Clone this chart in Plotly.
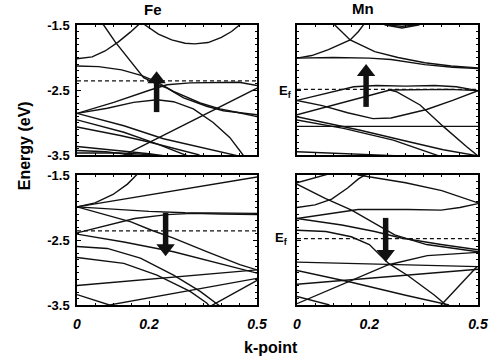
import plotly.graph_objects as go

# ---------------- data ----------------
K_RANGE = [0, 0.5]
E_RANGE = [-3.5, -1.5]
K_TICKS = [0, 0.2, 0.5]
K_LABELS = ["0", "0.2", "0.5"]
E_TICKS = [-1.5, -2.5, -3.5]
E_LABELS = ["-1.5", "-2.5", "-3.5"]

panel_names = ["Fe", "Mn", "Fe", "Mn"]          # up-spin row, then down-spin row
fermi_levels = [-2.36, -2.49, -2.36, -2.48]
arrow_k = [0.221, 0.191, 0.246, 0.245]
arrow_tail = [-2.84, -2.76, -2.08, -2.16]
arrow_tip = [-2.21, -2.10, -2.75, -2.84]

# bands: (k values, energy values)
fe_up_bands = [
    ([0.18, 0.189, 0.226, 0.263, 0.300, 0.327, 0.364, 0.401, 0.429, 0.452, 0.46],
     [-1.45, -1.5, -1.64, -1.73, -1.78, -1.79, -1.77, -1.69, -1.60, -1.5, -1.46]),
    ([0, 0.042, 0.078, 0.115, 0.148, 0.171, 0.18],
     [-2.02, -1.99, -1.90, -1.76, -1.61, -1.5, -1.45]),
    ([0.06, 0.074, 0.106, 0.148, 0.185, 0.226, 0.25, 0.296, 0.36, 0.406, 0.5],
     [-1.42, -1.5, -1.76, -2.05, -2.31, -2.42, -2.47, -2.62, -2.75, -2.82, -2.88]),
    ([0, 0.06, 0.124, 0.18, 0.22, 0.268, 0.342, 0.397, 0.45, 0.5],
     [-2.13, -2.14, -2.19, -2.28, -2.37, -2.52, -2.70, -2.79, -2.85, -2.91]),
    ([0, 0.102, 0.203, 0.25, 0.314, 0.406, 0.45, 0.5],
     [-2.86, -2.69, -2.50, -2.42, -2.39, -2.38, -2.38, -2.43]),
    ([0, 0.084, 0.157, 0.222, 0.268, 0.323, 0.378, 0.424, 0.461, 0.47],
     [-2.86, -2.78, -2.69, -2.65, -2.68, -2.79, -3.0, -3.23, -3.5, -3.56]),
    ([0.11, 0.5], [-3.56, -2.47]),
    ([0, 0.13, 0.24, 0.36, 0.434, 0.46], [-2.86, -3.05, -3.25, -3.41, -3.5, -3.53]),
    ([0, 0.13, 0.222, 0.296, 0.31], [-2.96, -3.15, -3.33, -3.5, -3.52]),
    ([0, 0.12, 0.2, 0.3, 0.34], [-3.07, -3.2, -3.3, -3.45, -3.5]),
    ([0, 0.1, 0.2, 0.24], [-3.37, -3.42, -3.48, -3.51]),
    ([0, 0.08, 0.17], [-3.43, -3.45, -3.51]),
    ([0, 0.12, 0.22], [-3.47, -3.47, -3.5]),
]

mn_up_bands = [
    ([0.22, 0.245, 0.29, 0.335, 0.36], [-1.45, -1.5, -1.545, -1.5, -1.45]),
    ([0.25, 0.29, 0.33], [-1.5, -1.52, -1.5]),
    ([0, 0.1, 0.2, 0.26, 0.353, 0.43, 0.5], [-2.01, -2.0, -2.01, -2.03, -2.11, -2.15, -2.17]),
    ([0.09, 0.105, 0.147, 0.215, 0.279, 0.353, 0.426, 0.5],
     [-1.42, -1.5, -1.73, -1.91, -2.0, -2.08, -2.13, -2.16]),
    ([0, 0.041, 0.087, 0.124, 0.147, 0.17, 0.183, 0.19],
     [-2.01, -1.97, -1.88, -1.79, -1.73, -1.60, -1.5, -1.45]),
    ([0, 0.08, 0.157, 0.22, 0.30, 0.38, 0.44, 0.5],
     [-2.66, -2.55, -2.45, -2.43, -2.44, -2.43, -2.45, -2.51]),
    ([0, 0.07, 0.14, 0.21, 0.26, 0.358, 0.43, 0.5],
     [-2.66, -2.74, -2.85, -2.94, -2.93, -2.80, -2.66, -2.51]),
    ([0, 0.257], [-2.88, -2.50]),
    ([0.257, 0.33, 0.42, 0.5], [-2.50, -2.50, -2.49, -2.51]),
    ([0.257, 0.276, 0.34, 0.404, 0.468, 0.497, 0.51],
     [-2.50, -2.53, -2.73, -3.06, -3.37, -3.5, -3.56]),
    ([0, 0.175, 0.312, 0.404, 0.497], [-2.91, -3.12, -3.30, -3.42, -3.51]),
    ([0, 0.129, 0.266, 0.358, 0.39], [-2.96, -3.09, -3.27, -3.45, -3.51]),
    ([0, 0.5], [-3.06, -3.06]),
    ([0, 0.13, 0.27], [-3.45, -3.48, -3.51]),
]

fe_dn_bands = [
    ([0, 0.05, 0.1, 0.14, 0.165, 0.175], [-1.99, -1.93, -1.80, -1.64, -1.5, -1.44]),
    ([0, 0.25, 0.5], [-1.99, -1.76, -1.53]),
    ([0, 0.1, 0.2, 0.3, 0.4, 0.5], [-1.99, -2.03, -2.06, -2.08, -2.09, -2.09]),
    ([0, 0.084, 0.15, 0.207, 0.268, 0.36, 0.452, 0.5],
     [-1.99, -2.12, -2.22, -2.35, -2.47, -2.68, -2.88, -2.96]),
    ([0, 0.08, 0.16, 0.25, 0.32, 0.4, 0.5], [-2.39, -2.28, -2.17, -2.11, -2.09, -2.10, -2.11]),
    ([0, 0.13, 0.268, 0.406, 0.5], [-2.41, -2.53, -2.68, -2.88, -3.01]),
    ([0, 0.084, 0.176, 0.268, 0.342, 0.388, 0.4], [-2.60, -2.63, -2.78, -3.04, -3.29, -3.47, -3.53]),
    ([0, 0.13, 0.222, 0.314, 0.36, 0.37], [-2.77, -2.86, -3.04, -3.29, -3.47, -3.53]),
    ([0, 0.5], [-3.20, -2.96]),
    ([0.07, 0.5], [-3.52, -3.09]),
    ([0, 0.09], [-3.34, -3.5]),
    ([0.37, 0.5], [-3.52, -3.12]),
]

mn_dn_bands = [
    ([0, 0.04, 0.08, 0.09], [-1.62, -1.56, -1.5, -1.48]),
    ([0.15, 0.17, 0.3, 0.4, 0.5], [-1.45, -1.5, -1.62, -1.74, -1.93]),
    ([0, 0.078, 0.151, 0.224, 0.27, 0.358, 0.43, 0.5],
     [-1.64, -1.86, -2.04, -2.28, -2.42, -2.57, -2.63, -2.68]),
    ([0, 0.05, 0.096, 0.14, 0.17, 0.19, 0.2], [-2.0, -1.96, -1.87, -1.70, -1.56, -1.49, -1.46]),
    ([0, 0.08, 0.169, 0.307, 0.398, 0.45, 0.5], [-2.17, -2.10, -2.03, -2.03, -2.04, -2.0, -1.94]),
    ([0, 0.124, 0.215, 0.288, 0.398, 0.5], [-2.17, -2.27, -2.37, -2.47, -2.57, -2.65]),
    ([0, 0.08, 0.15, 0.2, 0.253, 0.307, 0.38, 0.41, 0.42],
     [-2.35, -2.37, -2.45, -2.57, -2.86, -3.05, -3.35, -3.5, -3.54]),
    ([0, 0.253, 0.36, 0.5], [-3.48, -2.88, -2.74, -2.69]),
    ([0, 0.15, 0.253, 0.4, 0.5], [-2.84, -2.86, -2.88, -2.90, -2.91]),
    ([0, 0.5], [-3.18, -2.95]),
    ([0.395, 0.497], [-3.52, -2.91]),
    ([0, 0.15, 0.3, 0.42], [-2.97, -3.15, -3.35, -3.5]),
    ([0, 0.09], [-3.37, -3.5]),
]

panel_bands = [fe_up_bands, mn_up_bands, fe_dn_bands, mn_dn_bands]

# ---------------- figure ----------------
W, H = 500, 361
L, R, T, B = 77, 20, 25, 56
FONT = "Liberation Sans"
PX_PER_EV = 130 / (E_RANGE[1] - E_RANGE[0])   # panel height 130 px
HEAD_SIZE = 16                                  # triangle marker size (px)

fig = go.Figure()
axis_ids = [("x", "y"), ("x2", "y2"), ("x3", "y3"), ("x4", "y4")]

for i, bands in enumerate(panel_bands):
    xa, ya = axis_ids[i]
    for k, e in bands:
        fig.add_trace(go.Scatter(x=k, y=e, mode="lines",
                                 line=dict(color="#111111", width=1.4),
                                 xaxis=xa, yaxis=ya, showlegend=False, hoverinfo="skip"))
    fig.add_trace(go.Scatter(x=K_RANGE, y=[fermi_levels[i]] * 2, mode="lines",
                             line=dict(color="#111111", width=1.3, dash="4px,3px"),
                             xaxis=xa, yaxis=ya, showlegend=False, hoverinfo="skip"))
    # spin arrow: thick shaft + triangular head whose tip sits on arrow_tip
    up = arrow_tip[i] > arrow_tail[i]
    sign = 1 if up else -1
    head_center = arrow_tip[i] - sign * (HEAD_SIZE / 2) / PX_PER_EV
    fig.add_trace(go.Scatter(x=[arrow_k[i], arrow_k[i]], y=[arrow_tail[i], head_center],
                             mode="lines", line=dict(color="#111111", width=5.5),
                             xaxis=xa, yaxis=ya, showlegend=False, hoverinfo="skip"))
    fig.add_trace(go.Scatter(x=[arrow_k[i]], y=[head_center], mode="markers",
                             marker=dict(symbol="triangle-up" if up else "triangle-down",
                                         size=HEAD_SIZE, color="#111111",
                                         line=dict(width=0)),
                             xaxis=xa, yaxis=ya, showlegend=False, hoverinfo="skip",
                             cliponaxis=False))

xdom = [[0, 181 / 403], [221 / 403, 1]]
ydom_top = [150 / 280, 1]
ydom_bot = [0, 130 / 280]

def xaxis_style(dom, anchor, labels):
    return dict(domain=dom, anchor=anchor, range=K_RANGE, showgrid=False, zeroline=False,
                showline=True, linecolor="black", linewidth=1.5, mirror="ticks",
                ticks="inside", ticklen=4, tickcolor="black",
                tickmode="array", tickvals=K_TICKS,
                ticktext=["<b><i>%s</i></b>" % t for t in K_LABELS],
                showticklabels=labels, ticklabelstandoff=5,
                tickfont=dict(family=FONT, size=14, color="black"),
                minor=dict(tickmode="linear", tick0=0, dtick=0.05, ticks="inside",
                           ticklen=2, tickcolor="black", showgrid=False))

def yaxis_style(dom, anchor, labels):
    return dict(domain=dom, anchor=anchor, range=E_RANGE, showgrid=False, zeroline=False,
                showline=True, linecolor="black", linewidth=1.5, mirror="ticks",
                ticks="inside", ticklen=4, tickcolor="black",
                tickmode="array", tickvals=E_TICKS,
                ticktext=["<b>%s</b>" % t for t in E_LABELS],
                showticklabels=labels, ticklabelstandoff=3,
                tickfont=dict(family=FONT, size=13, color="black"),
                minor=dict(tickmode="linear", tick0=-3.5, dtick=0.1, ticks="inside",
                           ticklen=2, tickcolor="black", showgrid=False))

fig.update_layout(
    width=W, height=H, margin=dict(l=L, r=R, t=T, b=B),
    paper_bgcolor="white", plot_bgcolor="white",
    font=dict(family=FONT, color="black"),
    xaxis=xaxis_style(xdom[0], "y", False),
    yaxis=yaxis_style(ydom_top, "x", True),
    xaxis2=xaxis_style(xdom[1], "y2", False),
    yaxis2=yaxis_style(ydom_top, "x2", False),
    xaxis3=xaxis_style(xdom[0], "y3", True),
    yaxis3=yaxis_style(ydom_bot, "x3", True),
    xaxis4=xaxis_style(xdom[1], "y4", True),
    yaxis4=yaxis_style(ydom_bot, "x4", False),
)

def px2paper(px, py):
    return (px - L) / (W - L - R), (H - B - py) / (H - T - B)

def add_text(text, px, py, size, angle=0):
    x, y = px2paper(px, py)
    fig.add_annotation(x=x, y=y, xref="paper", yref="paper", text=text, showarrow=False,
                       textangle=angle, xanchor="center", yanchor="middle",
                       font=dict(family=FONT, size=size, color="black"))

add_text("<b>%s</b>" % panel_names[0], 153, 10, 15)
add_text("<b>%s</b>" % panel_names[1], 364, 9, 15)
add_text("<b>Energy (eV)</b>", 24, 146, 16, angle=-90)
add_text("<b>k-point</b>", 272, 347, 16)
add_text("<b>E<sub>f</sub></b>", 287, 91, 13)
add_text("<b>E<sub>f</sub></b>", 283, 238, 13)

fig.write_html("out.html")
